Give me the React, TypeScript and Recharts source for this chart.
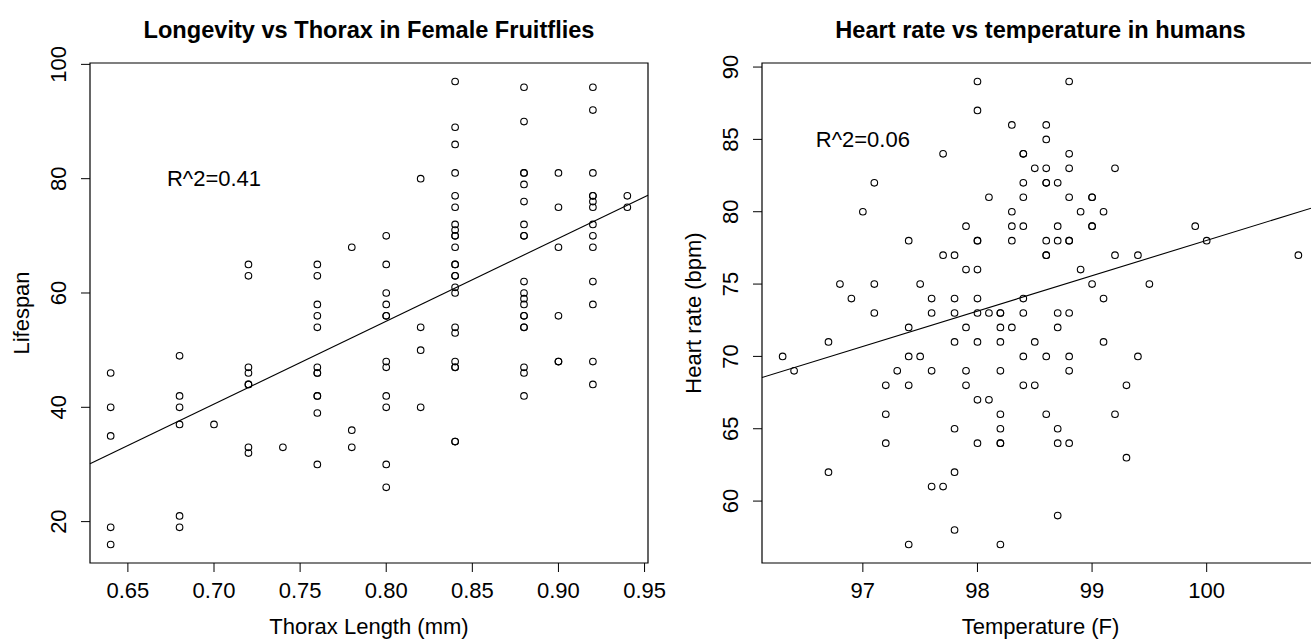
import { ScatterChart, Scatter, XAxis, YAxis, ReferenceLine, ReferenceArea, ReferenceDot } from "recharts";

const FONT = '"Liberation Sans", Arial, Helvetica, sans-serif';

// Left panel: lifespan of female fruitflies grouped by thorax length
const thoraxLevels = [0.64, 0.68, 0.7, 0.72, 0.74, 0.76, 0.78, 0.8, 0.82, 0.84, 0.88, 0.9, 0.92, 0.94];
const lifespanByThorax = [
  [46, 40, 35, 19, 16],
  [49, 42, 40, 37, 21, 19],
  [37],
  [65, 63, 47, 46, 44, 44, 33, 32],
  [33],
  [65, 63, 58, 56, 54, 47, 46, 46, 42, 42, 39, 30],
  [68, 36, 33],
  [70, 65, 60, 58, 56, 56, 48, 47, 42, 40, 30, 26],
  [80, 54, 50, 40],
  [97, 89, 86, 81, 77, 75, 72, 71, 70, 70, 68, 65, 65, 63, 63, 61, 60, 54, 53, 48, 47, 47, 34, 34],
  [96, 90, 81, 81, 79, 76, 72, 70, 70, 62, 60, 59, 58, 56, 56, 54, 54, 47, 46, 42],
  [81, 75, 68, 56, 48, 48],
  [96, 92, 81, 77, 77, 76, 75, 72, 70, 68, 62, 58, 48, 44],
  [77, 75],
];
const thoraxTicks = [0.65, 0.7, 0.75, 0.8, 0.85, 0.9, 0.95];
const lifespanTicks = [20, 40, 60, 80, 100];
const flyFit = { intercept: -60.94, slope: 145 };

// Right panel: human body temperature grouped by heart rate
const heartRateLevels = [89, 87, 86, 85, 84, 83, 82, 81, 80, 79, 78, 77, 76, 75, 74, 73, 72, 71, 70, 69, 68, 67, 66, 65, 64, 63, 62, 61, 59, 58, 57];
const tempsByHeartRate = [
  [98.0, 98.8],
  [98.0],
  [98.3, 98.6],
  [98.6],
  [97.7, 98.4, 98.4, 98.8],
  [98.5, 98.6, 98.8, 99.2],
  [97.1, 98.4, 98.6, 98.6, 98.7],
  [98.1, 98.4, 98.8, 99.0, 99.0],
  [97.0, 98.3, 98.9, 99.1],
  [97.9, 98.3, 98.4, 98.7, 99.0, 99.0, 99.9],
  [97.4, 98.0, 98.0, 98.3, 98.6, 98.7, 98.8, 98.8, 100.0],
  [97.7, 97.8, 98.6, 98.6, 99.2, 99.4, 100.8],
  [97.9, 98.0, 98.9],
  [96.8, 97.1, 97.5, 99.0, 99.5],
  [96.9, 97.6, 97.8, 98.0, 98.4, 99.1],
  [97.1, 97.6, 97.8, 98.0, 98.1, 98.2, 98.2, 98.4, 98.7, 98.8],
  [97.4, 97.9, 98.2, 98.3, 98.7],
  [96.7, 97.8, 98.0, 98.2, 98.5, 99.1],
  [96.3, 97.4, 97.5, 98.4, 98.6, 98.8, 99.4],
  [96.4, 97.3, 97.6, 97.9, 98.2, 98.8],
  [97.2, 97.4, 97.9, 98.4, 98.5, 99.3],
  [98.0, 98.1],
  [97.2, 98.2, 98.6, 99.2],
  [97.8, 98.2, 98.7],
  [97.2, 98.0, 98.2, 98.2, 98.7, 98.8],
  [99.3],
  [96.7, 97.8],
  [97.6, 97.7],
  [98.7],
  [97.8],
  [97.4, 98.2],
];
const tempTicks = [97, 98, 99, 100];
const heartRateTicks = [60, 65, 70, 75, 80, 85, 90];
const heartFit = { intercept: -166.28, slope: 2.443 };

const flyData = thoraxLevels.flatMap((t, i) => lifespanByThorax[i].map((l) => ({ x: t, y: l })));
const heartData = heartRateLevels.flatMap((h, i) => tempsByHeartRate[i].map((t) => ({ x: t, y: h })));

// R pads the data range by 4% on each side
function padded(values: number[]): [number, number] {
  const lo = Math.min(...values);
  const hi = Math.max(...values);
  const pad = (hi - lo) * 0.04;
  return [lo - pad, hi + pad];
}

const PLOT_LEFT = 90;
const PLOT_TOP = 63;
const PLOT_BOTTOM = 563;
const CHART_H = 642;

function OpenCircle(props: any) {
  return <circle cx={props.cx} cy={props.cy} r={3.3} fill="none" stroke="#000" strokeWidth={1.1} />;
}

function XTick(props: any) {
  return (
    <text x={props.x} y={PLOT_BOTTOM + 35} textAnchor="middle" fontSize={22} fontFamily={FONT} fill="#000">
      {props.payload.value}
    </text>
  );
}

function YTick(props: any) {
  const bx = PLOT_LEFT - 24;
  return (
    <text
      x={bx}
      y={props.y}
      transform={`rotate(-90 ${bx} ${props.y})`}
      textAnchor="middle"
      fontSize={22}
      fontFamily={FONT}
      fill="#000"
    >
      {props.payload.value}
    </text>
  );
}

function Panel({
  data,
  xTicks,
  yTicks,
  xFmt,
  fit,
  width,
  rightMargin,
  note,
  noteAt,
}: {
  data: { x: number; y: number }[];
  xTicks: number[];
  yTicks: number[];
  xFmt: (v: number) => string;
  fit: { intercept: number; slope: number };
  width: number;
  rightMargin: number;
  note: string;
  noteAt: [number, number];
}) {
  const xDom = padded(data.map((d) => d.x));
  const yDom = padded(data.map((d) => d.y));
  return (
    <ScatterChart
      width={width}
      height={CHART_H}
      margin={{ top: PLOT_TOP, right: rightMargin, bottom: 0, left: 0 }}
    >
      <XAxis
        dataKey="x"
        type="number"
        domain={xDom}
        ticks={xTicks}
        allowDataOverflow
        height={CHART_H - PLOT_BOTTOM}
        axisLine={false}
        tickLine={{ stroke: "#000" }}
        tickSize={9}
        tick={(p: any) => <XTick {...p} payload={{ value: xFmt(p.payload.value) }} />}
        interval={0}
      />
      <YAxis
        dataKey="y"
        type="number"
        domain={yDom}
        ticks={yTicks}
        allowDataOverflow
        width={PLOT_LEFT}
        axisLine={false}
        tickLine={{ stroke: "#000" }}
        tickSize={9}
        tick={<YTick />}
        interval={0}
      />
      <ReferenceArea
        x1={xDom[0]}
        x2={xDom[1]}
        y1={yDom[0]}
        y2={yDom[1]}
        fill="none"
        fillOpacity={0}
        stroke="#000"
        strokeWidth={1.2}
        strokeOpacity={1}
        ifOverflow="visible"
      />
      <ReferenceLine
        segment={[
          { x: xDom[0], y: fit.intercept + fit.slope * xDom[0] },
          { x: xDom[1], y: fit.intercept + fit.slope * xDom[1] },
        ]}
        stroke="#000"
        strokeWidth={1.1}
        ifOverflow="visible"
      />
      <ReferenceDot
        x={noteAt[0]}
        y={noteAt[1]}
        r={0}
        fill="none"
        stroke="none"
        label={{ value: note, position: "center", fontSize: 22, fontFamily: FONT, fill: "#000" }}
      />
      <Scatter data={data} shape={<OpenCircle />} isAnimationActive={false} />
    </ScatterChart>
  );
}

export default function App() {
  const mid = (PLOT_TOP + PLOT_BOTTOM) / 2;
  return (
    <div
      style={{
        position: "absolute",
        left: 0,
        top: 0,
        width: 1311,
        height: 642,
        overflow: "hidden",
        background: "#fff",
        fontFamily: FONT,
      }}
    >
      <div style={{ position: "absolute", left: 672, top: 0 }}>
        <Panel
          data={heartData}
          xTicks={tempTicks}
          yTicks={heartRateTicks}
          xFmt={(v) => String(v)}
          fit={heartFit}
          width={660}
          rightMargin={13}
          note="R^2=0.06"
          noteAt={[97, 85]}
        />
      </div>
      <div style={{ position: "absolute", left: 0, top: 0 }}>
        <Panel
          data={flyData}
          xTicks={thoraxTicks}
          yTicks={lifespanTicks}
          xFmt={(v) => v.toFixed(2)}
          fit={flyFit}
          width={690}
          rightMargin={42}
          note="R^2=0.41"
          noteAt={[0.7, 80]}
        />
      </div>
      <svg
        width={1311}
        height={642}
        style={{ position: "absolute", left: 0, top: 0, pointerEvents: "none" }}
        fontFamily={FONT}
      >
        <text x={369} y={38} textAnchor="middle" fontSize={23.6} fontWeight="bold" fill="#000">
          Longevity vs Thorax in Female Fruitflies
        </text>
        <text x={1040.5} y={38} textAnchor="middle" fontSize={23.6} fontWeight="bold" fill="#000">
          Heart rate vs temperature in humans
        </text>
        <text x={369} y={634} textAnchor="middle" fontSize={22} fill="#000">
          Thorax Length (mm)
        </text>
        <text x={1040.5} y={634} textAnchor="middle" fontSize={22} fill="#000">
          Temperature (F)
        </text>
        <text x={29} y={mid} transform={`rotate(-90 29 ${mid})`} textAnchor="middle" fontSize={22} fill="#000">
          Lifespan
        </text>
        <text x={701} y={mid} transform={`rotate(-90 701 ${mid})`} textAnchor="middle" fontSize={22} fill="#000">
          Heart rate (bpm)
        </text>
      </svg>
    </div>
  );
}
